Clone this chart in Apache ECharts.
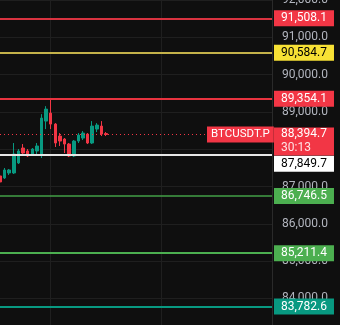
<!DOCTYPE html>
<html>
<head>
<meta charset="utf-8">
<script src="https://cdn.jsdelivr.net/npm/echarts@6/dist/echarts.min.js"></script>
<style>
html,body{margin:0;padding:0;background:#0f0f0f;}
#c{width:340px;height:325px;}
</style>
</head>
<body>
<div id="c"></div>
<script>
// ---- data ----
var opens  = [87283, 87229, 87363, 87363, 87631, 88032, 87952, 87871, 87952, 87871, 88754, 88968, 88674, 88353, 88273, 88139, 87818, 88219, 88299, 88406, 88166, 88540, 88620, 88420];
var closes = [87122, 87443, 87443, 87871, 87952, 87898, 87818, 88005, 88086, 88834, 89075, 88674, 88166, 88219, 88139, 87818, 88219, 88380, 88433, 88166, 88620, 88647, 88406, 88394.7];
var lows   = [87015, 87203, 87310, 87336, 87604, 87818, 87790, 87818, 87818, 87765, 88540, 88540, 88059, 88086, 87898, 87790, 87790, 88166, 88246, 88139, 88139, 88460, 88353, 88353];
var highs  = [87310, 87497, 87470, 88166, 88005, 88139, 88005, 88032, 88166, 88940, 89155, 89330, 88700, 88433, 88299, 88166, 88246, 88433, 88487, 88433, 88754, 88700, 88754, 88460];
var slotCount = 60;
var levels      = [91508.1, 90584.7, 89354.1, 87849.7, 86746.5, 85211.4, 83782.6];
var levelLabels = ['91,508.1', '90,584.7', '89,354.1', '87,849.7', '86,746.5', '85,211.4', '83,782.6'];
var lastPrice = 88394.7;
var lastPriceLabel = '88,394.7';
var countdown = '30:13';
var symbol = 'BTCUSDT.P';
var yMin = 83288, yMax = 92000;

// ---- styles ----
var lineColors = ['#d93340', '#c4b24a', '#e8333f', '#e6e6e6', '#43a047', '#4caf50', '#089981'];
var boxColors  = ['#f23645', '#f7e135', '#f23645', '#ffffff', '#4caf50', '#4caf50', '#089981'];
var textColors = ['#ffffff', '#000000', '#ffffff', '#000000', '#ffffff', '#ffffff', '#ffffff'];
var lineWidths = [2, 2, 2, 2, 1.5, 2, 2];
var labelOffsets = [0, 0, 0, 9, 0, 0, 0];

var categories = [];
for (var i = 0; i < slotCount; i++) categories.push('c' + i);
var candles = [];
for (var j = 0; j < opens.length; j++) candles.push([opens[j], closes[j], lows[j], highs[j]]);

var FONT = 'Roboto';
var mlData = levels.map(function (v, k) {
  return {
    yAxis: v,
    lineStyle: { color: lineColors[k], width: lineWidths[k], type: 'solid' },
    label: {
      show: true, position: 'end', distance: 2, formatter: levelLabels[k],
      backgroundColor: boxColors[k], color: textColors[k],
      fontFamily: FONT, fontSize: 12, lineHeight: 14, padding: [1, 7],
      offset: [0, labelOffsets[k]]
    }
  };
});
mlData.push({
  yAxis: lastPrice,
  lineStyle: { color: 'rgba(0,0,0,0)', width: 0 },
  label: {
    show: true, position: 'end', distance: 2, formatter: symbol,
    backgroundColor: '#f23645', color: '#ffffff',
    fontFamily: FONT, fontSize: 11.5, lineHeight: 14, padding: [1, 4],
    offset: [-67, 0]
  }
});
mlData.push({
  yAxis: lastPrice,
  lineStyle: { color: '#f23645', width: 1, type: [1, 3] },
  label: {
    show: true, position: 'end', distance: 2,
    formatter: '{a|' + lastPriceLabel + '}\n{b|' + countdown + '}',
    backgroundColor: '#f23645', padding: [0, 7], offset: [0, 7],
    rich: {
      a: { color: '#ffffff', fontFamily: FONT, fontSize: 12, lineHeight: 14 },
      b: { color: '#ffe3e5', fontFamily: FONT, fontSize: 12, lineHeight: 14 }
    }
  }
});

var chart = echarts.init(document.getElementById('c'), null, { renderer: 'canvas' });
chart.setOption({
  animation: false,
  backgroundColor: '#0f0f0f',
  grid: { left: 0, right: 68, top: 0, bottom: 0, containLabel: false, outerBoundsMode: 'none' },
  xAxis: {
    type: 'category', data: categories, boundaryGap: false,
    axisLabel: { show: false }, axisTick: { show: false }, axisLine: { show: false },
    splitLine: { show: true, interval: function (idx) { return idx === 11 || idx === 35; },
      lineStyle: { color: '#1f1f1f', width: 1 } }
  },
  yAxis: {
    type: 'value', position: 'right', min: yMin, max: yMax, splitNumber: 9, scale: true,
    axisLine: { show: true, lineStyle: { color: '#2a2a2a', width: 1 } },
    axisTick: { show: false },
    splitLine: { show: true, lineStyle: { color: '#1f1f1f', width: 1 } },
    axisLabel: {
      color: '#b2b5be', fontFamily: FONT, fontSize: 12, margin: 10,
      formatter: function (v) {
        if (Math.abs(v % 1000) > 1e-6) return '';
        return v.toLocaleString('en-US', { minimumFractionDigits: 1, maximumFractionDigits: 1 });
      }
    }
  },
  series: [{
    type: 'candlestick',
    data: candles,
    barWidth: 3,
    itemStyle: { color: '#089981', color0: '#f23645', borderColor: '#089981', borderColor0: '#f23645', borderWidth: 1 },
    markLine: { silent: true, symbol: 'none', animation: false, z: 10, data: mlData }
  }]
});
</script>
</body>
</html>
